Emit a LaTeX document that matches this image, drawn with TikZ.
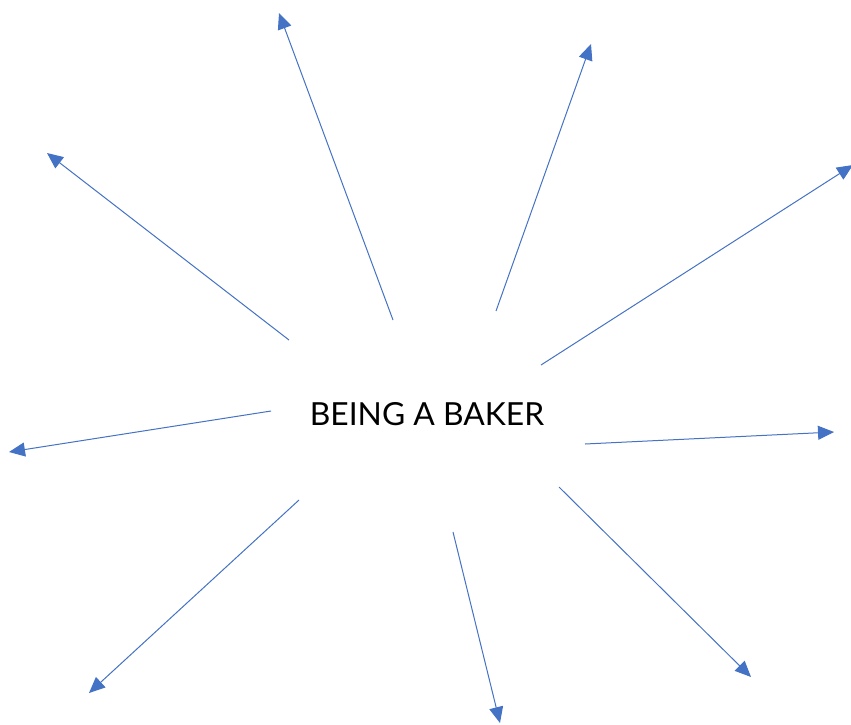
\documentclass[tikz,border=0pt]{standalone}
\usepackage{fontspec}
\setmainfont{Lato}
\usepackage{xcolor}
\usepackage{tikz}
\usetikzlibrary{arrows.meta}

\definecolor{spokeblue}{HTML}{4472C4}

\begin{document}
\begin{tikzpicture}[
    x=1pt, y=-1pt,
    spoke/.style={-{Triangle[length=16pt, width=14pt]}, draw=spokeblue, line width=1pt},
    title/.style={font=\fontsize{31.8}{36}\selectfont, text=black, inner sep=0pt},
]
    \useasboundingbox (0,0) rectangle (851,724);

    % Centre
    \node[title] (baker) at (427,414) {BEING A BAKER};

    % Spokes
    \foreach \n/\sx/\sy/\ex/\ey in {1/393/320/279/13, 2/496/311/591/44, 3/289/340/47/153,
        4/541/365/853/165, 5/271/411/9/452, 6/585/444/834/432,
        7/299/500/89/693, 8/453/532/500/723, 9/559/487/751/677} {
        \coordinate (from\n) at (\sx,\sy);
        \coordinate (to\n) at (\ex,\ey);
        \draw[spoke] (from\n) -- (to\n);
    }
\end{tikzpicture}
\end{document}
